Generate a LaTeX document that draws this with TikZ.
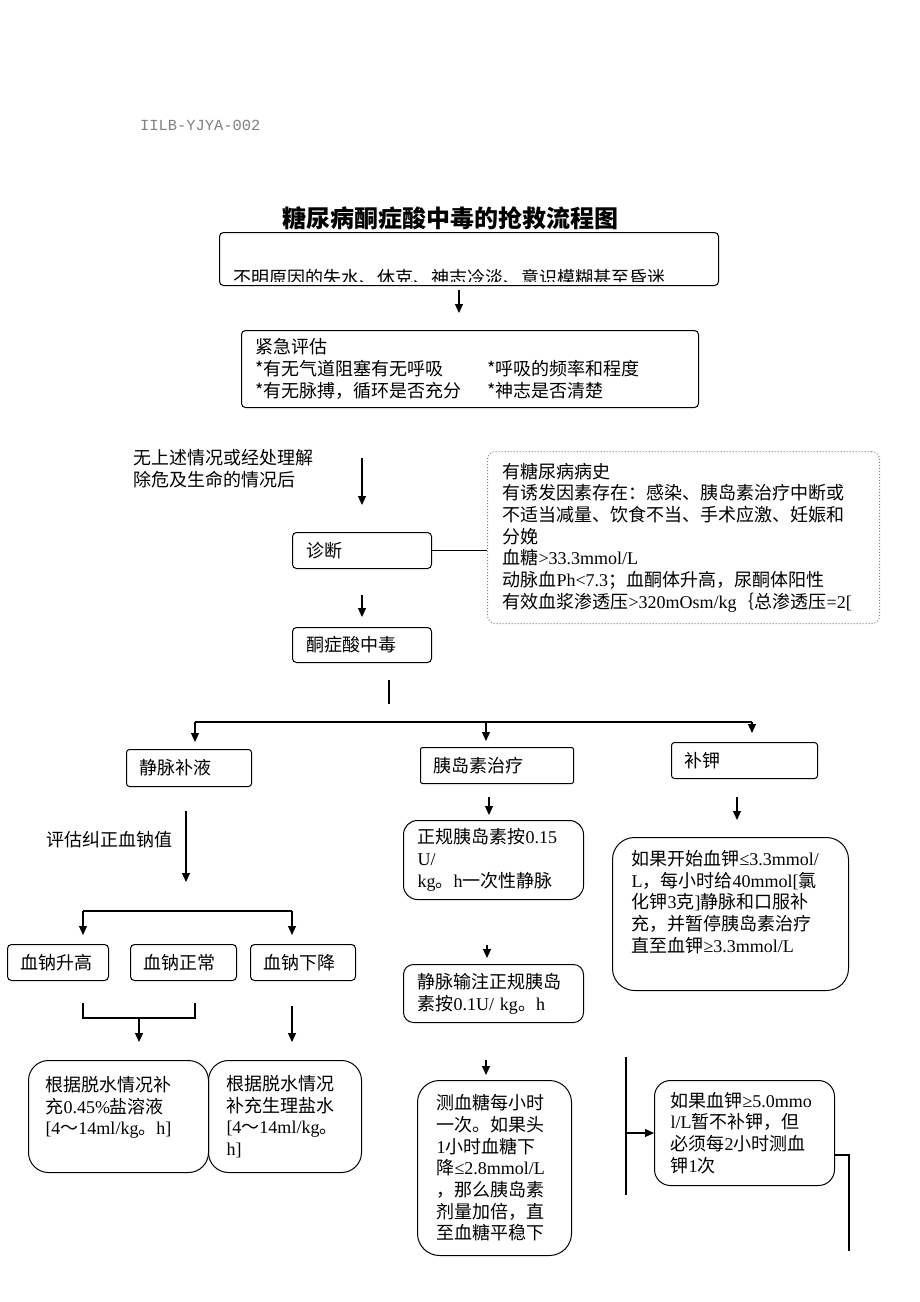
\documentclass[tikz,border=0pt]{standalone}
\usepackage{fontspec}
\setmainfont{Noto Sans CJK SC}
\newfontfamily\latnfont{Liberation Serif}
\newfontfamily\codefont{Liberation Mono}
\newcommand\latn[1]{{\latnfont #1}}
\usetikzlibrary{arrows.meta,calc}

\begin{document}
\begin{tikzpicture}[x=1pt,y=-1pt,
  box/.style={draw, line width=1pt, rounded corners=4pt, anchor=north west,
    align=left, inner ysep=0pt, font=\fontsize{18}{21.7}\selectfont},
  txt/.style={inner sep=0pt, align=left, font=\fontsize{18}{21.7}\selectfont},
  arr/.style={line width=1.1pt, -{Triangle[length=9pt,width=8pt]}},
  link/.style={line width=1.1pt}]
  \useasboundingbox (0,0) rectangle (920,1302);

  % heading
  \node[anchor=west, inner sep=0pt, text=gray, font=\codefont\fontsize{15.4}{18}\selectfont] (code) at (140,125) {IILB-YJYA-002};
  \node[inner sep=0pt, font=\bfseries\fontsize{24}{28}\selectfont] (title) at (450,218) {糖尿病酮症酸中毒的抢救流程图};

  % first steps
  \node[box, minimum width=499pt, minimum height=53pt] (sign) at (219,232) {};
  \begin{scope}
    \clip (219,232) rectangle (718,281);
    \node[txt, anchor=base west] (signtxt) at (233,284) {不明原因的失水、休克、神志冷淡、意识模糊甚至昏迷};
  \end{scope}
  \node[box, minimum width=457pt, minimum height=77pt, inner xsep=14pt, text width=429pt] (eval) at (241,330)
    {紧急评估\\
     \makebox[232pt][l]{*有无气道阻塞有无呼吸}*呼吸的频率和程度\\
     \makebox[232pt][l]{*有无脉搏，循环是否充分}*神志是否清楚};
  \coordinate (a1) at (459,290);
  \coordinate (a2) at (459,313);
  \draw[arr] (a1) -- (a2);

  \node[txt, anchor=west] (cond) at (133,469) {无上述情况或经处理解\\除危及生命的情况后};
  \coordinate (b1) at (362,458);
  \coordinate (b2) at (362,505);
  \draw[arr] (b1) -- (b2);

  % diagnosis
  \node[box, minimum width=139pt, minimum height=36pt, inner xsep=14pt, text width=111pt] (diag) at (292,532) {诊断};
  \node[box, draw=gray, dotted, rounded corners=8pt, minimum width=392pt, minimum height=172pt,
    inner xsep=15pt, text width=362pt] (hist) at (487,451)
    {有糖尿病病史\\
     有诱发因素存在：感染、胰岛素治疗中断或\\
     不适当减量、饮食不当、手术应激、妊娠和\\
     分娩\\
     血糖\latn{>33.3mmol/L}\\
     动脉血\latn{Ph<7.3}；血酮体升高，尿酮体阳性\\
     有效血浆渗透压\latn{>320mOsm/kg}｛总渗透压\latn{=2[}};
  \draw[link] (diag.east) -- (hist.west |- diag.east);

  \coordinate (c1) at (362,595);
  \coordinate (c2) at (362,617);
  \draw[arr] (c1) -- (c2);
  \node[box, minimum width=139pt, minimum height=35pt, inner xsep=14pt, text width=111pt] (ket) at (292,627) {酮症酸中毒};

  % three branches
  \coordinate (d1) at (389,680);
  \coordinate (d2) at (389,704);
  \draw[link] (d1) -- (d2);
  \coordinate (sl) at (195,722);
  \coordinate (sm) at (486,722);
  \coordinate (sr) at (752,722);
  \draw[link] (sl) -- (sr);
  \draw[arr] (sl) -- (195,742);
  \draw[arr] (sm) -- (486,741);
  \draw[arr] (sr) -- (752,733);

  \node[box, rounded corners=3pt, minimum width=125pt, minimum height=37pt, inner xsep=13pt, text width=99pt] (ivf) at (126,749) {静脉补液};
  \node[box, rounded corners=2pt, minimum width=153pt, minimum height=36pt, inner xsep=13pt, text width=127pt] (ins) at (420,747) {胰岛素治疗};
  \node[box, rounded corners=3pt, minimum width=146pt, minimum height=36pt, inner xsep=13pt, text width=120pt] (kal) at (671,742) {补钾};

  % fluids
  \coordinate (e1) at (186,811);
  \coordinate (e2) at (186,882);
  \draw[arr] (e1) -- (e2);
  \node[txt, anchor=west] (natxt) at (46,840) {评估纠正血钠值};
  \coordinate (fl) at (83,911);
  \coordinate (fr) at (292,911);
  \draw[link] (fl) -- (fr);
  \draw[arr] (fl) -- (83,935);
  \draw[arr] (fr) -- (292,935);

  \node[box, minimum width=101pt, minimum height=36pt, inner xsep=13pt, text width=75pt] (na1) at (7,944) {血钠升高};
  \node[box, minimum width=106pt, minimum height=36pt, inner xsep=13pt, text width=80pt] (na2) at (130,944) {血钠正常};
  \node[box, minimum width=105pt, minimum height=36pt, inner xsep=13pt, text width=79pt] (na3) at (250,944) {血钠下降};

  \coordinate (g1) at (83,1003);
  \coordinate (g2) at (195,1003);
  \draw[link] (g1) -- (83,1018) -- (195,1018) -- (g2);
  \draw[arr] (139,1018) -- (139,1042);
  \coordinate (h1) at (292,1006);
  \draw[arr] (h1) -- (292,1042);

  \node[box, rounded corners=20pt, minimum width=180pt, minimum height=112pt, inner xsep=17pt, text width=146pt] (dl) at (28,1060)
    {根据脱水情况补\\充\latn{0.45\%}盐溶液\\\latn{[4}～\latn{14ml/kg}。\latn{h]}\\\mbox{}};
  \node[box, rounded corners=20pt, minimum width=153pt, minimum height=112pt, inner xsep=18pt, text width=117pt] (dr) at (208,1060)
    {根据脱水情况\\补充生理盐水\\\latn{[4}～\latn{14ml/kg}。\\\latn{h]}};

  % insulin
  \coordinate (i1) at (489,797);
  \coordinate (i2) at (489,815);
  \draw[arr] (i1) -- (i2);
  \node[box, rounded corners=14pt, minimum width=180pt, minimum height=79pt, inner xsep=14pt, text width=152pt] (reg) at (403,820)
    {正规胰岛素按\latn{0.15}\\\latn{U/}\\\latn{kg}。\latn{h}一次性静脉};
  \coordinate (j1) at (487,945);
  \coordinate (j2) at (487,958);
  \draw[arr] (j1) -- (j2);
  \node[box, rounded corners=10pt, minimum width=180pt, minimum height=58pt, inner xsep=14pt, text width=152pt] (inf) at (403,964)
    {静脉输注正规胰岛\\素按\latn{0.1U/ kg}。\latn{h}};
  \coordinate (k1) at (486,1060);
  \coordinate (k2) at (486,1075);
  \draw[arr] (k1) -- (k2);
  \node[box, rounded corners=22pt, minimum width=154pt, minimum height=175pt, inner xsep=19pt, text width=116pt] (glu) at (417,1080)
    {测血糖每小时\\一次。如果头\\\latn{1}小时血糖下\\降\latn{≤2.8mmol/L}\\，那么胰岛素\\剂量加倍，直\\至血糖平稳下};

  % potassium
  \coordinate (m1) at (737,797);
  \coordinate (m2) at (737,820);
  \draw[arr] (m1) -- (m2);
  \node[box, rounded corners=22pt, minimum width=236pt, minimum height=153pt, inner xsep=19pt, text width=198pt] (kbox) at (612,837)
    {如果开始血钾\latn{≤3.3mmol/}\\\latn{L}，每小时给\latn{40mmol[}氯\\化钾\latn{3}克\latn{]}静脉和口服补\\充，并暂停胰岛素治疗\\直至血钾\latn{≥3.3mmol/L}\\[4pt]\mbox{}};
  \coordinate (n1) at (626,1057);
  \coordinate (n2) at (626,1195);
  \draw[link] (n1) -- (n2);
  \node[box, rounded corners=16pt, minimum width=180pt, minimum height=105pt, inner xsep=16pt, text width=148pt] (khi) at (654,1080)
    {如果血钾\latn{≥5.0mmo}\\\latn{l/L}暂不补钾，但\\必须每\latn{2}小时测血\\钾\latn{1}次};
  \draw[arr] (n1 |- khi.west) -- (khi.west);
  \coordinate (p1) at (849,1251);
  \draw[link] (khi.east |- 0,1155) -- (849,1155) -- (p1);
\end{tikzpicture}
\end{document}
